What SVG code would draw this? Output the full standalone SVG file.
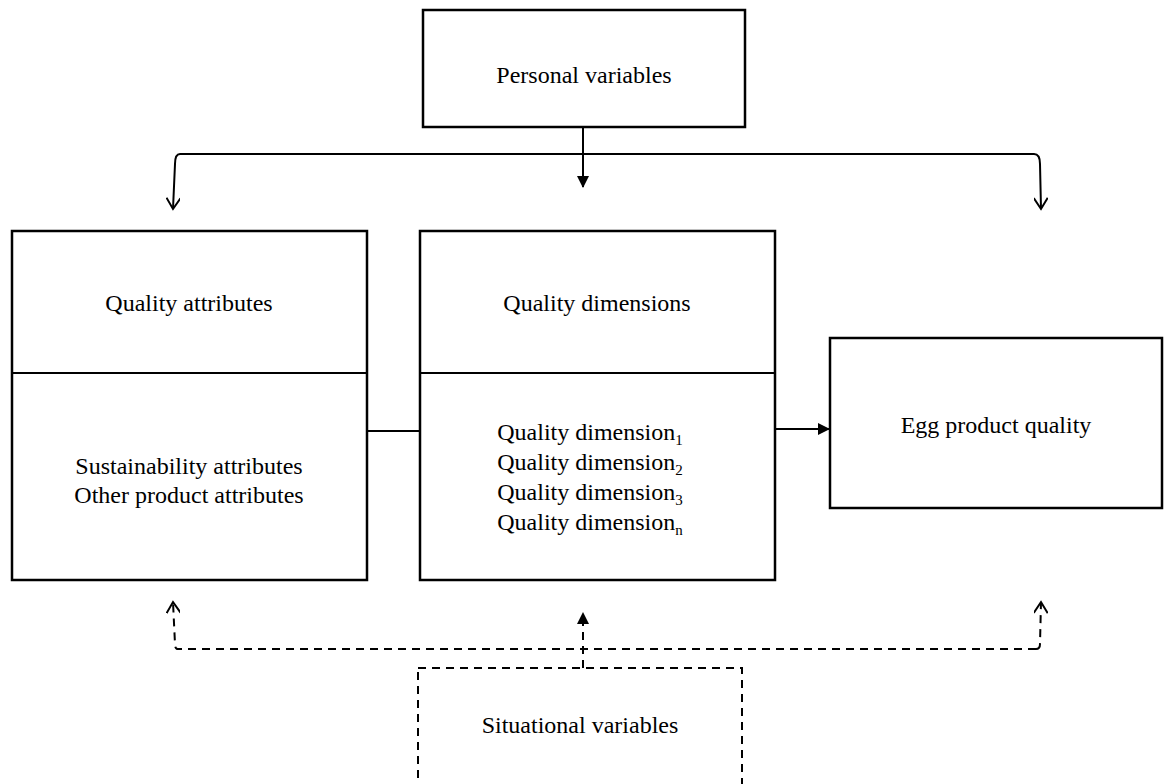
<svg xmlns="http://www.w3.org/2000/svg" width="1173" height="784" viewBox="0 0 1173 784">
<defs>
<style>
.box{fill:#fff;stroke:#000;stroke-width:2.5}
.dbox{fill:#fff;stroke:#000;stroke-width:2;stroke-dasharray:8 6}
.ln{fill:none;stroke:#000;stroke-width:2}
.dl{fill:none;stroke:#000;stroke-width:2;stroke-dasharray:8 6}
text{font-family:"Liberation Serif","Times New Roman",serif;font-size:24px;fill:#000;text-anchor:middle}
</style>
<marker id="open" markerWidth="14" markerHeight="14" refX="12" refY="7" orient="auto" markerUnits="userSpaceOnUse"><path d="M1,0 L12,7 L1,14" fill="none" stroke="#000" stroke-width="2"/></marker>
<marker id="fill" markerWidth="12" markerHeight="12" refX="11" refY="6" orient="auto" markerUnits="userSpaceOnUse"><path d="M0,0 L12,6 L0,12 Z" fill="#000"/></marker>
</defs>
<g id="personal"><rect class="box" x="423" y="10" width="322" height="117"/><text x="584" y="83">Personal variables</text></g>
<g id="attributes"><rect class="box" x="12" y="231" width="355" height="349"/><line class="ln" x1="12" y1="373" x2="367" y2="373" stroke-width="2.5"/><text x="189" y="311">Quality attributes</text><text x="189" y="474">Sustainability attributes</text><text x="189" y="503">Other product attributes</text></g>
<g id="dimensions"><rect class="box" x="420" y="231" width="355" height="349"/><line class="ln" x1="420" y1="373" x2="775" y2="373" stroke-width="2.5"/><text x="597" y="311">Quality dimensions</text><text x="590" y="440">Quality dimension<tspan font-size="15" dy="5">1</tspan></text><text x="590" y="470">Quality dimension<tspan font-size="15" dy="5">2</tspan></text><text x="590" y="500">Quality dimension<tspan font-size="15" dy="5">3</tspan></text><text x="590" y="530">Quality dimension<tspan font-size="15" dy="5">n</tspan></text></g>
<g id="egg"><rect class="box" x="830" y="338" width="332" height="170"/><text x="996" y="433">Egg product quality</text></g>
<g id="situational"><rect class="dbox" x="418" y="668" width="324" height="130"/><text x="580" y="733">Situational variables</text></g>
<g id="connectors">
<line class="ln" x1="583" y1="127" x2="583" y2="187" marker-end="url(#fill)"/>
<path class="ln" d="M1034,154 L180,154 Q175,154 175,164 L173,209" marker-end="url(#open)"/>
<path class="ln" d="M1034,154 Q1040,154 1040,164 L1041,209" marker-end="url(#open)"/>
<line class="ln" x1="367" y1="431" x2="420" y2="431"/>
<line class="ln" x1="775" y1="429" x2="829" y2="429" marker-end="url(#fill)"/>
<path class="dl" d="M1036,649 L178,649 Q175,649 175,644 L173,602" marker-end="url(#open)"/>
<path class="dl" d="M1036,649 Q1040,649 1040,644 L1041,602" marker-end="url(#open)"/>
<path class="dl" d="M583,668 L583,613" marker-end="url(#fill)"/>
</g>
</svg>
